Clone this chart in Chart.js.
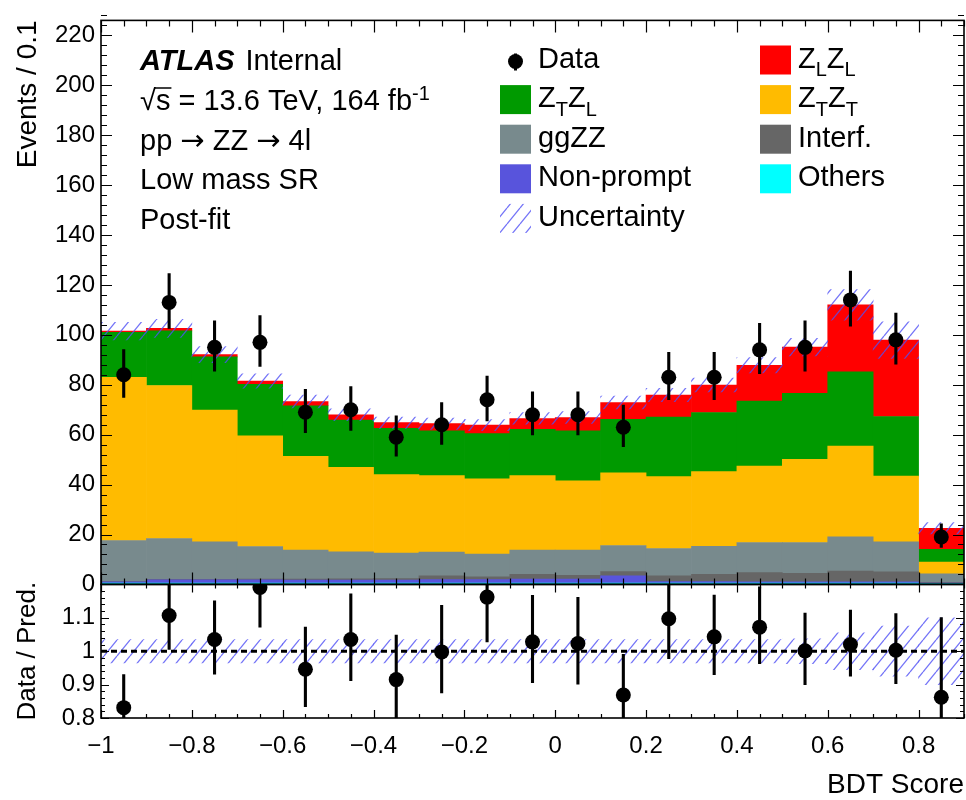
<!DOCTYPE html>
<html>
<head>
<meta charset="utf-8">
<title>BDT Score - Low mass SR, post-fit</title>
<script src="https://cdn.jsdelivr.net/npm/chart.js@4.4.1/dist/chart.umd.min.js"></script>
<style>
  html, body { margin: 0; padding: 0; background: #fff; }
  #wrap { width: 966px; height: 800px; }
</style>
</head>
<body>
<div id="wrap"><canvas id="c" width="966" height="800"></canvas></div>
<script>
// ---- data (bins of 0.1) ----
const binCenters = [-0.95, -0.85, -0.75, -0.65, -0.55, -0.45, -0.35, -0.25, -0.15, -0.05,
                    0.05, 0.15, 0.25, 0.35, 0.45, 0.55, 0.65, 0.75, 0.85];

// stacked predictions, bottom to top
const others    = [0.5, 0.5, 0.5, 0.5, 0.5, 0.5, 0.5, 0.5, 0.5, 0.5, 0.5, 0.5, 0.5, 0.5, 0.5, 0.5, 0.5, 0.5, 0.3];
const nonPrompt = [0.5, 1.3, 1.3, 1.3, 1.2, 1.2, 1.2, 1.4, 1.4, 1.6, 1.6, 2.9, 0.6, 0.6, 0.5, 0.5, 0.5, 0.5, 0.2];
const interf    = [0.2, 0.2, 0.2, 0.3, 0.4, 0.5, 0.6, 1.5, 1.1, 1.9, 1.5, 1.7, 2.3, 2.9, 3.7, 3.4, 4.3, 4.0, 0.3];
const ggzz      = [16.4, 16.4, 15.1, 13.1, 11.7, 10.9, 10.3, 9.6, 9.2, 9.8, 10.2, 10.5, 11.0, 11.3, 12.1, 12.4, 13.8, 12.1, 3.4];
const ztzt      = [65.4, 61.3, 52.8, 44.3, 37.5, 33.8, 31.4, 30.6, 30.1, 29.8, 27.7, 29.1, 28.8, 29.9, 30.6, 33.3, 36.3, 26.3, 4.8];
const ztzl      = [18.0, 21.9, 21.3, 20.7, 20.3, 18.9, 18.5, 17.9, 18.1, 18.5, 20.0, 21.4, 23.9, 23.7, 26.1, 26.5, 29.8, 23.9, 5.1];
const zlzl      = [0.5, 1.0, 0.9, 1.3, 1.7, 2.2, 2.3, 2.9, 3.4, 4.4, 5.4, 6.8, 8.8, 11.0, 14.3, 18.5, 26.8, 30.6, 8.4];

// relative post-fit uncertainty on the total prediction
const uncRel = [0.035, 0.035, 0.035, 0.035, 0.035, 0.035, 0.035, 0.035, 0.035, 0.035,
                0.035, 0.035, 0.035, 0.035, 0.035, 0.037, 0.055, 0.075, 0.10];

// observed data with (asymmetric) poisson errors
const data      = [84, 113, 95, 97, 69, 70, 59, 64, 74, 68, 68, 63, 83, 83, 94, 95, 114, 98, 19];
const dataErrUp = [10.2, 11.7, 10.8, 10.9, 9.3, 9.4, 8.7, 9.0, 9.6, 9.3, 9.3, 9.0, 10.1, 10.1, 10.7, 10.8, 11.7, 10.9, 5.4];
const dataErrDn = [9.2, 10.6, 9.7, 9.8, 8.3, 8.4, 7.7, 8.0, 8.6, 8.2, 8.2, 7.9, 9.1, 9.1, 9.7, 9.7, 10.7, 9.9, 4.3];

// data / prediction
const ratio      = [0.831, 1.107, 1.035, 1.191, 0.946, 1.035, 0.915, 0.998, 1.162, 1.028, 1.023, 0.869, 1.097, 1.043, 1.072, 1.001, 1.020, 1.003, 0.862];
const ratioErrUp = [0.100, 0.114, 0.117, 0.134, 0.127, 0.138, 0.134, 0.140, 0.150, 0.140, 0.139, 0.123, 0.133, 0.126, 0.122, 0.114, 0.104, 0.111, 0.240];
const ratioErrDn = [0.091, 0.103, 0.105, 0.120, 0.113, 0.124, 0.119, 0.124, 0.135, 0.123, 0.123, 0.108, 0.120, 0.114, 0.110, 0.102, 0.096, 0.101, 0.190];

// axes
const xTicks     = [-1, -0.8, -0.6, -0.4, -0.2, 0, 0.2, 0.4, 0.6, 0.8];
const yTicks     = [0, 20, 40, 60, 80, 100, 120, 140, 160, 180, 200, 220];
const ratioTicks = [0.8, 0.9, 1, 1.1];

const FONT = "'Liberation Sans', Arial, Helvetica, sans-serif";
const TXT = 29;

// name, colour, values (stack order bottom -> top)
const stack = [
  { name: 'Others',       color: '#00ffff', values: others },
  { name: 'Non-prompt',   color: '#5854dc', values: nonPrompt },
  { name: 'Interf.',      color: '#666666', values: interf },
  { name: 'ggZZ',         color: '#788a8d', values: ggzz },
  { name: 'Z_{T}Z_{T}',   color: '#ffbb00', values: ztzt },
  { name: 'Z_{T}Z_{L}',   color: '#009a00', values: ztzl },
  { name: 'Z_{L}Z_{L}',   color: '#ff0000', values: zlzl },
];
const byName = n => stack.find(s => s.name === n);
const legendLeft  = ['Data', 'Z_{T}Z_{L}', 'ggZZ', 'Non-prompt', 'Uncertainty'];
const legendRight = ['Z_{L}Z_{L}', 'Z_{T}Z_{T}', 'Interf.', 'Others'];
const infoLines = ['#sqrt{s} = 13.6 TeV, 164 fb^{-1}', 'pp \u2192 ZZ \u2192 4l', 'Low mass SR', 'Post-fit'];

const total = binCenters.map((_, i) => stack.reduce((s, c) => s + c.values[i], 0));

// ---- helpers ----
const canvas = document.getElementById('c');
function makeHatch() {
  const w = 13, h = 16;
  const c = document.createElement('canvas');
  c.width = w; c.height = h;
  const g = c.getContext('2d');
  g.strokeStyle = 'rgba(80,80,245,0.8)';
  g.lineWidth = 1.3;
  for (const k of [-1, 0, 1]) {
    g.beginPath(); g.moveTo(k * w, h); g.lineTo((k + 1) * w, 0); g.stroke();
  }
  return canvas.getContext('2d').createPattern(c, 'repeat');
}
const hatch = makeHatch();

const fmt = v => {
  const r = Math.round(v * 100) / 100;
  return (r < 0 ? '\u2212' : '') + String(Math.abs(r));
};

// text with _{sub}, ^{sup}, #sqrt{..}; arrows drawn in DejaVu (longer glyph)
function richText(ctx, str, x, y, size) {
  const parts = str.split(/(_\{[^}]*\}|\^\{[^}]*\}|#sqrt\{[^}]*\}|\u2192)/).filter(Boolean);
  for (const p of parts) {
    if (p.startsWith('_{') || p.startsWith('^{')) {
      const s = p.slice(2, -1);
      const sub = p[0] === '_';
      ctx.font = `${Math.round(size * 0.68)}px ${FONT}`;
      ctx.fillText(s, x, y + (sub ? size * 0.3 : -size * 0.36));
      x += ctx.measureText(s).width;
    } else if (p === '\u2192') {
      ctx.font = `${size}px 'DejaVu Sans', ${FONT}`;
      ctx.fillText(p, x, y);
      x += ctx.measureText(p).width;
    } else if (p.startsWith('#sqrt{')) {
      const inner = p.slice(6, -1);
      ctx.font = `${size}px ${FONT}`;
      const m = ctx.measureText('\u221a');
      ctx.fillText('\u221a', x, y);
      const iw = ctx.measureText(inner).width;
      ctx.fillText(inner, x + m.width, y);
      const top = y - m.actualBoundingBoxAscent + 1;
      ctx.save();
      ctx.lineWidth = 1.5; ctx.strokeStyle = '#000';
      ctx.beginPath(); ctx.moveTo(x + m.actualBoundingBoxRight - 1, top); ctx.lineTo(x + m.width + iw + 1, top); ctx.stroke();
      ctx.restore();
      x += m.width + iw;
    } else {
      ctx.font = `${size}px ${FONT}`;
      ctx.fillText(p, x, y);
      x += ctx.measureText(p).width;
    }
  }
}

// ---- datasets ----
const bars = { type: 'bar', grouped: false, barPercentage: 1, categoryPercentage: 1, borderWidth: 0 };
const datasets = stack.map(c => ({
  ...bars, label: c.name, yAxisID: 'y', stack: 'mc', order: 10,
  backgroundColor: c.color,
  data: binCenters.map((x, i) => ({ x, y: c.values[i] })),
}));
datasets.push(
  { ...bars, label: 'Uncertainty', yAxisID: 'y', stack: 'uncU', order: 9, backgroundColor: hatch,
    data: binCenters.map((x, i) => ({ x, y: [total[i] * (1 - uncRel[i]), total[i] * (1 + uncRel[i])] })) },
  { ...bars, label: 'errU', yAxisID: 'y', stack: 'errU', order: 8, barPercentage: 0.068, backgroundColor: '#000',
    data: binCenters.map((x, i) => ({ x, y: [data[i] - dataErrDn[i], data[i] + dataErrUp[i]] })) },
  { type: 'scatter', label: 'Data', yAxisID: 'y', stack: 'ptsU', order: 7, pointRadius: 7.5,
    pointBackgroundColor: '#000', pointBorderWidth: 0, showLine: false,
    data: binCenters.map((x, i) => ({ x, y: data[i] })) },
  { ...bars, label: 'uncR', yAxisID: 'yr', stack: 'uncR', order: 9, backgroundColor: hatch,
    data: binCenters.map((x, i) => ({ x, y: [1 - uncRel[i], 1 + uncRel[i]] })) },
  { type: 'line', label: 'one', yAxisID: 'yr', stack: 'one', order: 8, borderColor: '#000', borderWidth: 3,
    borderDash: [6, 4], pointRadius: 0, fill: false,
    data: [{ x: -1, y: 1 }, { x: 0.9, y: 1 }] },
  { ...bars, label: 'errR', yAxisID: 'yr', stack: 'errR', order: 7, barPercentage: 0.068, backgroundColor: '#000',
    data: binCenters.map((x, i) => ({ x, y: [ratio[i] - ratioErrDn[i], ratio[i] + ratioErrUp[i]] })) },
  { type: 'scatter', label: 'ratio', yAxisID: 'yr', stack: 'ptsR', order: 6, pointRadius: 7.5,
    pointBackgroundColor: '#000', pointBorderWidth: 0, showLine: false,
    data: binCenters.map((x, i) => ({ x, y: ratio[i] })) },
);

// ---- plugin: per-panel clipping, ROOT-like frame/ticks, labels, legend ----
const atlasPlot = {
  id: 'atlasPlot',
  beforeDatasetDraw(chart, args) {
    const ys = chart.scales[args.meta.yAxisID];
    const a = chart.chartArea, ctx = chart.ctx;
    ctx.save();
    ctx.beginPath();
    ctx.rect(a.left, ys.top, a.right - a.left, ys.bottom - ys.top);
    ctx.clip();
  },
  afterDatasetDraw(chart) { chart.ctx.restore(); },
  afterDraw(chart) {
    const ctx = chart.ctx, a = chart.chartArea, xs = chart.scales.x;
    ctx.save();
    ctx.strokeStyle = '#000';
    const panels = [
      { s: chart.scales.y,  xMaj: 12, xMin: 6, yMaj: 11, yMin: 6, yStep: 4,    yFrom: 0,   yTo: 226, every: 5 },
      { s: chart.scales.yr, xMaj: 8,  xMin: 4, yMaj: 8,  yMin: 4, yStep: 0.02, yFrom: 0.8, yTo: 1.2, every: 5 },
    ];
    for (const p of panels) {
      const s = p.s;
      ctx.lineWidth = 1.2;
      ctx.beginPath();
      for (let k = 0; k <= 38; k++) {
        const px = Math.round(xs.getPixelForValue(-1 + 0.05 * k)) + 0.5;
        const len = k % 4 === 0 ? p.xMaj : p.xMin;
        ctx.moveTo(px, s.bottom); ctx.lineTo(px, s.bottom - len);
        ctx.moveTo(px, s.top); ctx.lineTo(px, s.top + len);
      }
      const n = Math.round((p.yTo - p.yFrom) / p.yStep);
      for (let k = 0; k <= n; k++) {
        const py = Math.round(s.getPixelForValue(p.yFrom + p.yStep * k)) + 0.5;
        const len = k % p.every === 0 ? p.yMaj : p.yMin;
        ctx.moveTo(a.left, py); ctx.lineTo(a.left + len, py);
        ctx.moveTo(a.right, py); ctx.lineTo(a.right - len, py);
      }
      ctx.stroke();
      ctx.lineWidth = 1.6;
      ctx.strokeRect(a.left, s.top, a.right - a.left, s.bottom - s.top);
    }

    // labels
    ctx.fillStyle = '#000';
    ctx.textAlign = 'left';
    ctx.textBaseline = 'alphabetic';
    ctx.font = `italic bold ${TXT}px ${FONT}`;
    ctx.fillText('ATLAS', 140, 70);
    const aw = ctx.measureText('ATLAS').width;
    ctx.font = `${TXT}px ${FONT}`;
    ctx.fillText('Internal', 140 + aw + 11, 70);
    infoLines.forEach((line, i) => richText(ctx, line, 140, 110 + i * 39.5, TXT));

    // legend
    const rowY = i => 67.5 + i * 39.6;
    const drawItem = (name, bx, tx, y) => {
      if (name === 'Data') {
        ctx.fillRect(bx + 14, y - 14, 3, 17);
        ctx.beginPath(); ctx.arc(bx + 15.5, y - 6, 7.5, 0, Math.PI * 2); ctx.fill();
      } else if (name === 'Uncertainty') {
        ctx.save(); ctx.fillStyle = hatch; ctx.fillRect(bx, y - 22, 31, 29); ctx.restore();
      } else {
        ctx.save(); ctx.fillStyle = byName(name).color; ctx.fillRect(bx, y - 22, 31, 29); ctx.restore();
      }
      richText(ctx, name, tx, y, TXT);
    };
    legendLeft.forEach((n, i) => drawItem(n, 500, 538, rowY(i)));
    legendRight.forEach((n, i) => drawItem(n, 760, 798, rowY(i)));
    ctx.restore();
  },
};

Chart.defaults.font.family = FONT;
Chart.defaults.color = '#000';

new Chart(canvas, {
  type: 'bar',
  data: { datasets },
  options: {
    responsive: false,
    animation: false,
    events: [],
    layout: { autoPadding: false, padding: { top: 13, right: 2, left: 0, bottom: 0 } },
    plugins: { legend: { display: false }, tooltip: { enabled: false } },
    scales: {
      x: {
        type: 'linear', min: -1, max: 0.9, offset: false,
        grid: { display: false, drawTicks: false, offset: false },
        border: { display: false },
        afterBuildTicks: s => { s.ticks = xTicks.map(v => ({ value: v })); },
        afterFit: s => { s.height = 82; s.paddingLeft = 0; s.paddingRight = 0; },
        ticks: { font: { size: 24 }, padding: 14, maxRotation: 0, autoSkip: false, callback: v => fmt(v) },
        title: { display: true, text: 'BDT Score', align: 'end', font: { size: 28, lineHeight: 1 }, padding: { top: 0, bottom: 1 } },
      },
      yr: {
        type: 'linear', position: 'left', stack: 'v', stackWeight: 135, weight: 0,
        min: 0.8, max: 1.2, stacked: false,
        grid: { display: false, drawTicks: false },
        border: { display: false },
        afterBuildTicks: s => { s.ticks = ratioTicks.map(v => ({ value: v })); },
        afterFit: s => { s.width = 101; },
        ticks: { font: { size: 24 }, padding: 6, autoSkip: false, callback: v => fmt(v) },
        title: { display: true, text: 'Data / Pred.', align: 'center', font: { size: 26, lineHeight: 1 }, padding: { top: 15, bottom: 0 } },
      },
      y: {
        type: 'linear', position: 'left', stack: 'v', stackWeight: 570, weight: 1,
        min: 0, max: 226, stacked: true,
        grid: { display: false, drawTicks: false },
        border: { display: false },
        afterBuildTicks: s => { s.ticks = yTicks.map(v => ({ value: v })); },
        afterFit: s => { s.width = 101; },
        ticks: { font: { size: 24 }, padding: 6, autoSkip: false, callback: v => fmt(v) },
        title: { display: true, text: 'Events / 0.1', align: 'end', font: { size: 28, lineHeight: 1 }, padding: { top: 14, bottom: 0 } },
      },
    },
  },
  plugins: [atlasPlot],
});
</script>
</body>
</html>
